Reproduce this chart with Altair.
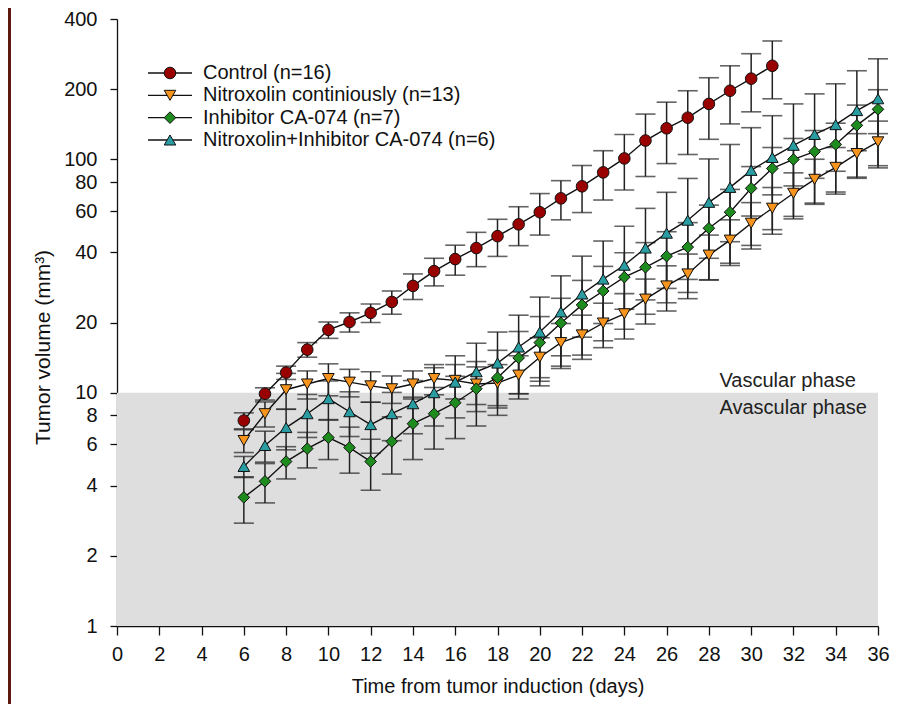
import altair as alt
import pandas as pd

# ---------------- data ----------------
series = ["Control (n=16)", "Nitroxolin continiously (n=13)",
          "Inhibitor CA-074 (n=7)", "Nitroxolin+Inhibitor CA-074 (n=6)"]
colors = ["#990000", "#F7941D", "#1E8B1E", "#2A9DA3"]
shapes = ["circle", "triangle-down", "diamond", "triangle-up"]

control_days = list(range(6, 32))
control_mean = [7.6, 9.9, 12.2, 15.3, 18.6, 20.1, 22.0, 24.5, 28.7, 33.2, 37.4, 41.7, 46.9,
                52.7, 59.4, 68.1, 76.7, 88.0, 101, 120.5, 136, 151, 173, 197, 222, 252]
control_se = [0.6, 0.6, 0.8, 1.1, 1.5, 1.9, 2.0, 2.8, 3.6, 4.5, 5.5, 7, 8.5,
              10, 12, 13, 17.5, 21, 27, 36, 40, 46, 51, 55, 62, 70]

treat_days = list(range(6, 37))
nitro_mean = [6.24, 8.13, 10.3, 10.9, 11.5, 11.1, 10.7, 10.4, 10.9, 11.5, 11.3, 10.9, 11.0,
              11.9, 14.2, 16.4, 17.7, 19.9, 21.8, 25.2, 28.7, 32.3, 38.9, 45.1, 53.3, 61.8,
              71.6, 82.2, 92.5, 106, 119]
nitro_se = [0.7, 1.0, 1.8, 1.5, 1.8, 1.5, 1.6, 1.4, 1.5, 1.7, 1.9, 2.0, 2.2,
            2.5, 3.0, 3.4, 3.8, 4.3, 4.8, 5.5, 6.3, 7.0, 8.5, 10, 12, 14,
            16, 18, 20, 23, 27]

inhib_mean = [3.56, 4.17, 5.07, 5.76, 6.42, 5.82, 5.07, 6.18, 7.37, 8.13, 9.06, 10.4, 11.6,
              14.1, 16.4, 19.9, 23.8, 27.3, 31.3, 34.5, 38.5, 42.1, 50.7, 59.4, 75.2, 91.5,
              100, 108, 116, 140, 164]
inhib_se = [0.8, 0.8, 0.8, 1.0, 1.25, 1.3, 1.25, 1.7, 2.2, 2.4, 2.7, 3.2, 3.6,
            4.2, 4.8, 5.5, 6.5, 7.5, 8.5, 9.5, 10.5, 11.5, 13, 15, 18, 21,
            23, 25, 27, 31, 35]

combo_mean = [4.83, 5.94, 7.09, 8.13, 9.43, 8.29, 7.30, 8.13, 8.97, 10.0, 11.1, 12.3, 13.4,
              15.7, 18.2, 22.2, 26.5, 30.7, 35.2, 41.7, 48.3, 54.9, 65.5, 75.9, 89.8, 102,
              115, 128, 141, 162, 182]
combo_se = [0.5, 0.9, 1.4, 1.7, 1.8, 1.8, 1.8, 1.9, 2.3, 2.8, 3.3, 4.0, 4.8,
            5.8, 7.5, 9.5, 12, 14, 16.5, 20, 24, 28, 35, 40, 47, 52,
            58, 63, 70, 78, 88]

x_ticks = list(range(0, 37, 2))
y_ticks = [1, 2, 4, 6, 8, 10, 20, 40, 60, 80, 100, 200, 400]
phase_threshold = 10
phase_labels = ["Vascular phase", "Avascular phase"]

# ---------------- build tables ----------------
rows = []
for name, days, mean, se in [
    (series[0], control_days, control_mean, control_se),
    (series[1], treat_days, nitro_mean, nitro_se),
    (series[2], treat_days, inhib_mean, inhib_se),
    (series[3], treat_days, combo_mean, combo_se),
]:
    for d, m, s in zip(days, mean, se):
        rows.append({"series": name, "order": series.index(name), "day": d, "mean": m,
                     "lo": m - s, "hi": m + s})
df = pd.DataFrame(rows)
legend_df = pd.DataFrame({"series": series, "row": list(range(len(series)))})

band = pd.DataFrame({"x0": [0], "x1": [36], "y0": [1], "y1": [phase_threshold]})
labels_df = pd.DataFrame({"x": [28.5, 28.5], "y": [phase_threshold, phase_threshold],
                          "label": phase_labels, "pos": ["above", "below"]})

FONT = "Liberation Sans"
FS = 20
W, H = 761, 607
xscale = alt.Scale(domain=[0, 36], nice=False, zero=False)
yscale = alt.Scale(type="log", domain=[1, 400], nice=False)
fill_scale = alt.Scale(domain=series, range=colors)
shape_scale = alt.Scale(domain=series, range=shapes)

x_axis = alt.Axis(values=x_ticks, title="Time from tumor induction (days)", grid=False,
                  tickSize=9, labelPadding=9, titlePadding=12, domainColor="#111",
                  tickColor="#111", labelFontSize=FS, titleFontSize=FS,
                  labelColor="#111", titleColor="#111", labelFont=FONT, titleFont=FONT,
                  titleFontWeight="normal", labelFlush=False, labelOverlap=False,
                  domainWidth=1.3, tickWidth=1.3)
y_axis = alt.Axis(values=y_ticks, title="Tumor volume (mm³)", grid=False, format="d",
                  tickSize=7, labelPadding=13, domainColor="#111",
                  tickColor="#111", labelFontSize=FS, titleFontSize=21,
                  labelColor="#111", titleColor="#111", labelFont=FONT, titleFont=FONT,
                  titleFontWeight="normal", labelFlush=False, labelOverlap=False,
                  titleX=-64, titleY=328, titleAngle=270, titleBaseline="bottom",
                  titleAlign="center", domainWidth=1.3, tickWidth=1.3)

base = alt.Chart(df)

band_layer = alt.Chart(band).mark_rect(color="#DEDEDE").encode(
    x=alt.X("x0:Q", scale=xscale, axis=x_axis),
    x2="x1:Q",
    y=alt.Y("y0:Q", scale=yscale, axis=y_axis),
    y2="y1:Q",
)

err_rule = base.mark_rule(color="#222", strokeWidth=1.5).encode(
    x=alt.X("day:Q", scale=xscale),
    y=alt.Y("lo:Q", scale=yscale),
    y2="hi:Q",
)
cap_lo = base.mark_tick(color="#222", orient="horizontal", size=20, thickness=1.6).encode(
    x=alt.X("day:Q", scale=xscale),
    y=alt.Y("lo:Q", scale=yscale),
)
cap_hi = base.mark_tick(color="#222", orient="horizontal", size=20, thickness=1.6).encode(
    x=alt.X("day:Q", scale=xscale),
    y=alt.Y("hi:Q", scale=yscale),
)

lines = base.mark_line(color="#111", strokeWidth=1.4).encode(
    x=alt.X("day:Q", scale=xscale),
    y=alt.Y("mean:Q", scale=yscale),
    detail="series:N",
)

points = base.mark_point(filled=True, size=135, stroke="#111", strokeWidth=1,
                         opacity=1).encode(
    x=alt.X("day:Q", scale=xscale),
    y=alt.Y("mean:Q", scale=yscale),
    fill=alt.Fill("series:N", scale=fill_scale, legend=None),
    shape=alt.Shape("series:N", scale=shape_scale, legend=None),
    order="order:Q",
)

text_above = alt.Chart(labels_df[labels_df.pos == "above"]).mark_text(
    align="left", baseline="bottom", dy=-2, fontSize=FS, font=FONT, color="#222"
).encode(x=alt.X("x:Q", scale=xscale), y=alt.Y("y:Q", scale=yscale), text="label:N")
text_below = alt.Chart(labels_df[labels_df.pos == "below"]).mark_text(
    align="left", baseline="top", dy=5, fontSize=FS, font=FONT, color="#222"
).encode(x=alt.X("x:Q", scale=xscale), y=alt.Y("y:Q", scale=yscale), text="label:N")

# decorative dark-red frame edge at the far left of the picture
edge = alt.Chart(legend_df.head(1)).mark_rule(color="#5E1A0E", strokeWidth=3).encode(
    x=alt.value(-107.5), y=alt.value(-11), y2=alt.value(700))

main = alt.layer(band_layer, err_rule, cap_lo, cap_hi, lines, points,
                 text_above, text_below, edge)

# ---------------- legend built from marks ----------------
leg_y = alt.Y("row:Q", scale=alt.Scale(domain=[0, 3], range=[54, 121], nice=False,
                                       zero=False), axis=None)
leg_base = alt.Chart(legend_df)
leg_line = leg_base.mark_rule(color="#111", strokeWidth=1.4).encode(
    x=alt.value(31), x2=alt.value(75), y=leg_y)
leg_pt = leg_base.mark_point(filled=True, size=135, stroke="#111", strokeWidth=1,
                             opacity=1).encode(
    x=alt.value(53), y=leg_y,
    fill=alt.Fill("series:N", scale=fill_scale, legend=None),
    shape=alt.Shape("series:N", scale=shape_scale, legend=None))
leg_txt = leg_base.mark_text(align="left", baseline="middle", fontSize=FS, font=FONT,
                             color="#111").encode(x=alt.value(86), y=leg_y, text="series:N")
legend = alt.layer(leg_line, leg_pt, leg_txt)

chart = alt.layer(main, legend).resolve_scale(y="independent").properties(
    width=W, height=H,
    autosize=alt.AutoSizeParams(type="none"),
    padding={"left": 109, "top": 11, "right": 19, "bottom": 78},
    background="white",
).configure_view(stroke=None)

chart.save("out.html", embed_options={"renderer": "svg", "actions": False})
